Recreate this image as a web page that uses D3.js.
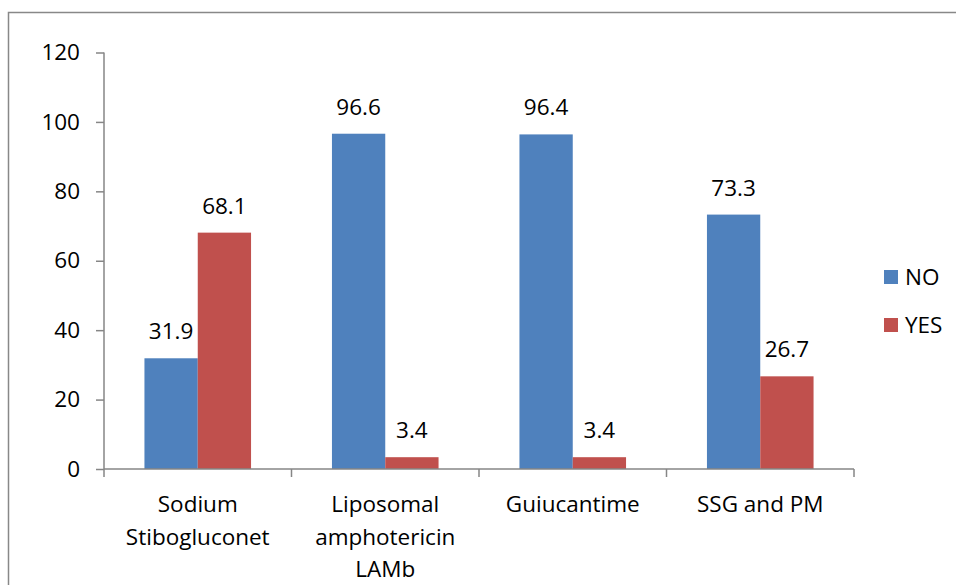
<!DOCTYPE html>
<html>
<head>
<meta charset="utf-8">
<script src="https://cdn.jsdelivr.net/npm/d3@7"></script>
<style>
  html, body { margin: 0; padding: 0; background: #fff; }
  svg text { font-family: "Open Sans", Lato, sans-serif; fill: #000; }
</style>
</head>
<body>
<svg id="chart" width="956" height="585"></svg>
<script>
// Treatment categories (label lines) and response percentages
const categories = [
  ["Sodium", "Stibogluconet"],
  ["Liposomal", "amphotericin", "LAMb"],
  ["Guiucantime"],
  ["SSG and PM"]
];
const noValues = [31.9, 96.6, 96.4, 73.3];
const yesValues = [68.1, 3.4, 3.4, 26.7];
const seriesNames = ["NO", "YES"];
const yTicks = [0, 20, 40, 60, 80, 100, 120];

const colors = { NO: "#4F81BD", YES: "#C0504D" };
const axisColor = "#868686";
const fontSize = 22.5;

const svg = d3.select("#chart");

// outer chart frame
svg.append("rect")
  .attr("x", 8.5).attr("y", 12.5)
  .attr("width", 1000).attr("height", 700)
  .attr("fill", "none").attr("stroke", "#888").attr("stroke-width", 1.5);

const plot = { left: 104, right: 854, top: 52.5, bottom: 469 };

const keys = categories.map((c, i) => i);
const x = d3.scaleBand().domain(keys).range([plot.left, plot.right]).paddingInner(0).paddingOuter(0);
const y = d3.scaleLinear().domain([0, 120]).range([plot.bottom, plot.top]);
const barW = 53.3;

const data = keys.map(i => ({ i, NO: noValues[i], YES: yesValues[i] }));

// y axis
const yAxis = svg.append("g").attr("transform", `translate(${plot.left},0)`)
  .call(d3.axisLeft(y).tickValues(yTicks).tickSize(8).tickPadding(16).tickFormat(d3.format("d")));
yAxis.select(".domain").attr("stroke", axisColor).attr("stroke-width", 1.5).attr("d", `M0,${plot.top}V${plot.bottom}`);
yAxis.selectAll(".tick line").attr("stroke", axisColor).attr("stroke-width", 1.5);
yAxis.selectAll(".tick text").attr("font-size", fontSize).style("font-family", "'Open Sans', Lato, sans-serif").attr("fill", "#000");

// bars
const groups = svg.append("g").selectAll("g").data(data).join("g");
seriesNames.forEach((s, k) => {
  groups.append("rect")
    .attr("x", d => x(d.i) + x.bandwidth() / 2 - barW + k * barW)
    .attr("y", d => y(d[s]))
    .attr("width", barW)
    .attr("height", d => y(0) - y(d[s]))
    .attr("fill", colors[s]);
  groups.append("text")
    .attr("x", d => x(d.i) + x.bandwidth() / 2 - barW / 2 + k * barW)
    .attr("y", d => y(d[s]) - 19)
    .attr("text-anchor", "middle")
    .attr("font-size", fontSize)
    .text(d => d[s]);
});

// x axis with category boundary ticks
const xAxisG = svg.append("g");
xAxisG.append("path")
  .attr("d", `M${plot.left},${plot.bottom}H${plot.right}`)
  .attr("stroke", axisColor).attr("stroke-width", 1.5).attr("fill", "none");
const bounds = keys.map(i => x(i)).concat([plot.right]);
xAxisG.selectAll("line").data(bounds).join("line")
  .attr("x1", d => d).attr("x2", d => d)
  .attr("y1", plot.bottom).attr("y2", plot.bottom + 8)
  .attr("stroke", axisColor).attr("stroke-width", 1.5);

// multi-line category labels
const labels = svg.append("g").selectAll("text").data(keys).join("text")
  .attr("text-anchor", "middle")
  .attr("font-size", fontSize)
  .attr("x", i => x(i) + x.bandwidth() / 2);
labels.each(function (i) {
  d3.select(this).selectAll("tspan").data(categories[i]).join("tspan")
    .attr("x", x(i) + x.bandwidth() / 2)
    .attr("y", (d, j) => 512 + j * 32.5)
    .text(d => d);
});

// legend
const legend = svg.append("g").selectAll("g").data(seriesNames).join("g")
  .attr("transform", (d, k) => `translate(884,${270 + k * 48})`);
legend.append("rect").attr("width", 14).attr("height", 14).attr("fill", d => colors[d]);
legend.append("text").attr("x", 21).attr("y", 7).attr("dy", "0.35em")
  .attr("font-size", fontSize).text(d => d);
</script>
</body>
</html>
